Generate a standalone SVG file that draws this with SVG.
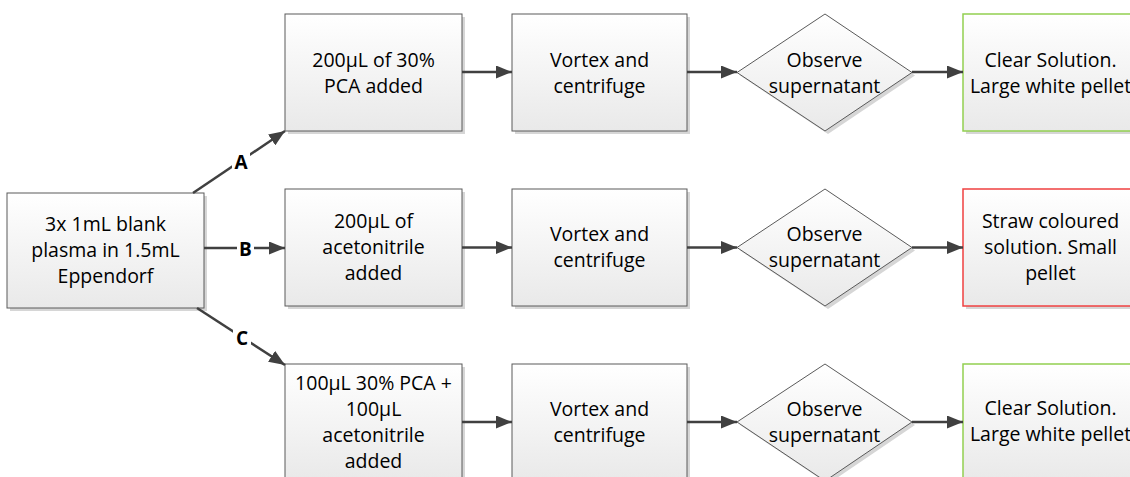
<svg xmlns="http://www.w3.org/2000/svg" width="1130" height="477" viewBox="0 0 1130 477">
<defs>
<linearGradient id="g" x1="0" y1="0" x2="0" y2="1">
<stop offset="0" stop-color="#ffffff"/>
<stop offset="1" stop-color="#e9e9e9"/>
</linearGradient>
<marker id="ah" viewBox="0 0 16 13" refX="16" refY="6.5" markerWidth="16" markerHeight="13" markerUnits="userSpaceOnUse" orient="auto">
<path d="M0,0 L16,6.5 L0,13 z" fill="#404040"/>
</marker>
<style>
.box{fill:url(#g);stroke:#5a5a5a;stroke-width:1}
.sh{fill:#d6d6d6}
.ok{fill:url(#g);stroke:#92d050;stroke-width:1.5}
.bad{fill:url(#g);stroke:#f04040;stroke-width:1.5}
.t{font-family:"Open Sans","Liberation Sans",sans-serif;font-size:19.5px;fill:#000;text-anchor:middle}
.lb{font-family:"Open Sans","Liberation Sans",sans-serif;font-size:19px;font-weight:bold;fill:#000;text-anchor:middle}
.c{stroke:#404040;stroke-width:2.5;fill:none;marker-end:url(#ah)}
</style>
</defs>
<rect width="1130" height="477" fill="#ffffff"/>

<g id="start">
<rect class="sh" x="10" y="196" width="197" height="115"/>
<rect class="box" x="7" y="193" width="197" height="115"/>
<text class="t" x="105.5" y="231">3x 1mL blank</text>
<text class="t" x="105.5" y="257">plasma in 1.5mL</text>
<text class="t" x="105.5" y="283">Eppendorf</text>
</g>

<g id="a1">
<rect class="sh" x="288" y="17" width="177" height="117"/>
<rect class="box" x="285" y="14" width="177" height="117"/>
<text class="t" x="373.5" y="66.5">200µL of 30%</text>
<text class="t" x="373.5" y="92.5">PCA added</text>
</g>
<g id="a2">
<rect class="sh" x="515" y="17" width="175" height="117"/>
<rect class="box" x="512" y="14" width="175" height="117"/>
<text class="t" x="599.5" y="66.5">Vortex and</text>
<text class="t" x="599.5" y="92.5">centrifuge</text>
</g>
<g id="a3">
<path class="sh" d="M740,75.5 L828,17 L915,75.5 L828,134 z"/>
<path class="box" d="M737,72.5 L825,14 L912,72.5 L825,131 z"/>
<text class="t" x="824.5" y="66.5">Observe</text>
<text class="t" x="824.5" y="92.5">supernatant</text>
</g>
<g id="a4">
<rect class="sh" x="966" y="17" width="175" height="117"/>
<rect class="ok" x="963" y="14" width="175" height="117"/>
<text class="t" x="1050.5" y="66.5">Clear Solution.</text>
<text class="t" x="1050.5" y="92.5">Large white pellet</text>
</g>

<g id="b1">
<rect class="sh" x="288" y="192" width="177" height="117"/>
<rect class="box" x="285" y="189" width="177" height="117"/>
<text class="t" x="373.5" y="228">200µL of</text>
<text class="t" x="373.5" y="254">acetonitrile</text>
<text class="t" x="373.5" y="280">added</text>
</g>
<g id="b2">
<rect class="sh" x="515" y="192" width="175" height="117"/>
<rect class="box" x="512" y="189" width="175" height="117"/>
<text class="t" x="599.5" y="241">Vortex and</text>
<text class="t" x="599.5" y="267">centrifuge</text>
</g>
<g id="b3">
<path class="sh" d="M740,250.5 L828,192 L915,250.5 L828,309 z"/>
<path class="box" d="M737,247.5 L825,189 L912,247.5 L825,306 z"/>
<text class="t" x="824.5" y="241">Observe</text>
<text class="t" x="824.5" y="267">supernatant</text>
</g>
<g id="b4">
<rect class="sh" x="966" y="192" width="175" height="117"/>
<rect class="bad" x="963" y="189" width="175" height="117"/>
<text class="t" x="1050.5" y="228">Straw coloured</text>
<text class="t" x="1050.5" y="254">solution. Small</text>
<text class="t" x="1050.5" y="280">pellet</text>
</g>

<g id="c1">
<rect class="sh" x="288" y="367" width="177" height="117"/>
<rect class="box" x="285" y="364" width="177" height="117"/>
<text class="t" x="373.5" y="390">100µL 30% PCA +</text>
<text class="t" x="373.5" y="416">100µL</text>
<text class="t" x="373.5" y="442">acetonitrile</text>
<text class="t" x="373.5" y="468">added</text>
</g>
<g id="c2">
<rect class="sh" x="515" y="367" width="175" height="117"/>
<rect class="box" x="512" y="364" width="175" height="117"/>
<text class="t" x="599.5" y="416">Vortex and</text>
<text class="t" x="599.5" y="442">centrifuge</text>
</g>
<g id="c3">
<path class="sh" d="M740,425 L828,367 L915,425 L828,484 z"/>
<path class="box" d="M737,422 L825,364 L912,422 L825,481 z"/>
<text class="t" x="824.5" y="416">Observe</text>
<text class="t" x="824.5" y="442">supernatant</text>
</g>
<g id="c4">
<rect class="sh" x="966" y="367" width="175" height="117"/>
<rect class="ok" x="963" y="364" width="175" height="117"/>
<text class="t" x="1050.5" y="415">Clear Solution.</text>
<text class="t" x="1050.5" y="441">Large white pellet</text>
</g>

<g id="connectors">
<line class="c" x1="193" y1="193" x2="285" y2="131"/>
<line class="c" x1="204" y1="248" x2="285" y2="248"/>
<line class="c" x1="197" y1="308" x2="285" y2="365"/>
<line class="c" x1="462" y1="72" x2="512" y2="72"/>
<line class="c" x1="687" y1="72" x2="737" y2="72"/>
<line class="c" x1="912" y1="72" x2="963" y2="72"/>
<line class="c" x1="462" y1="247.5" x2="512" y2="247.5"/>
<line class="c" x1="687" y1="247.5" x2="737" y2="247.5"/>
<line class="c" x1="912" y1="247.5" x2="963" y2="247.5"/>
<line class="c" x1="462" y1="422" x2="512" y2="422"/>
<line class="c" x1="687" y1="422" x2="737" y2="422"/>
<line class="c" x1="912" y1="422" x2="963" y2="422"/>
<rect x="232" y="153" width="18" height="18" fill="#ffffff"/>
<text class="lb" x="241" y="169">A</text>
<rect x="237" y="240" width="17" height="18" fill="#ffffff"/>
<text class="lb" x="245.5" y="256">B</text>
<rect x="233" y="329" width="18" height="18" fill="#ffffff"/>
<text class="lb" x="242" y="345">C</text>
</g>
</svg>
